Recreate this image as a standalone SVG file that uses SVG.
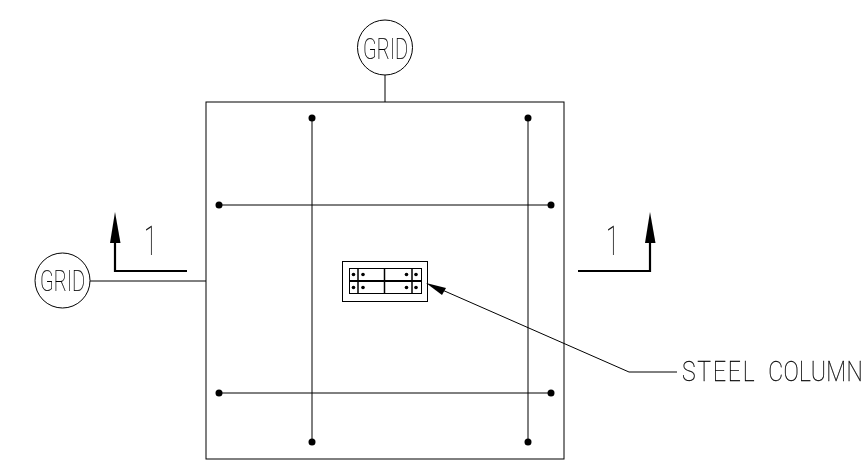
<svg xmlns="http://www.w3.org/2000/svg" width="864" height="461" viewBox="0 0 864 461">
<defs><style>
.l{fill:none;stroke:#000;stroke-width:1}
.m{fill:none;stroke:#000;stroke-width:1.5}
.h{fill:none;stroke:#000;stroke-width:2.2}
.d{fill:#000}
.t{font-family:"Roboto","Liberation Sans",Arial,sans-serif;font-weight:100;fill:#000;stroke:#000;stroke-width:.2;filter:url(#gray)}
</style>
<filter id="gray" x="-5%" y="-5%" width="110%" height="110%" color-interpolation-filters="sRGB"><feOffset dx="0" dy="0"/></filter>
</defs>
<rect width="864" height="461" fill="#fff"/>
<g id="connectors">
<line class="l" x1="385" y1="75" x2="385" y2="102"/>
<line class="l" x1="90" y1="281" x2="206" y2="281"/>
<polyline class="l" points="677,372 629,372 440,289"/>
<polygon class="d" points="426,283 446,288 442,295"/>
</g>
<g id="footing">
<rect class="l" x="206" y="102" width="358" height="357"/>
<g id="rebar">
<line class="l" x1="312" y1="118" x2="312" y2="442"/>
<line class="l" x1="528" y1="118" x2="528" y2="442"/>
<line class="l" x1="219" y1="205" x2="551" y2="205"/>
<line class="l" x1="219" y1="393" x2="551" y2="393"/>
<circle class="d" cx="312" cy="118" r="3.5"/><circle class="d" cx="312" cy="442" r="3.5"/>
<circle class="d" cx="528" cy="118" r="3.5"/><circle class="d" cx="528" cy="442" r="3.5"/>
<circle class="d" cx="219" cy="205" r="3.5"/><circle class="d" cx="551" cy="205" r="3.5"/>
<circle class="d" cx="219" cy="393" r="3.5"/><circle class="d" cx="551" cy="393" r="3.5"/>
</g>
</g>
<g id="column">
<rect class="l" x="342.500" y="261.500" width="85" height="40"/>
<rect class="l" x="349.500" y="268.500" width="72" height="25"/>
<line class="h" x1="349" y1="281" x2="422" y2="281"/>
<line class="m" x1="384.500" y1="268" x2="384.500" y2="294"/>
<line class="m" x1="358" y1="268" x2="358" y2="294"/>
<line class="m" x1="412" y1="268" x2="412" y2="294"/>
<g class="d">
<circle cx="353.500" cy="274.500" r="1.800"/><circle cx="363" cy="274.500" r="1.800"/>
<circle cx="353.500" cy="287.500" r="1.800"/><circle cx="363" cy="287.500" r="1.800"/>
<circle cx="406.500" cy="274.500" r="1.800"/><circle cx="416" cy="274.500" r="1.800"/>
<circle cx="406.500" cy="287.500" r="1.800"/><circle cx="416" cy="287.500" r="1.800"/>
</g>
</g>
<g id="grid-top">
<circle class="l" cx="385" cy="47.500" r="27.500"/>
<text class="t" x="363" y="59" font-size="30" textLength="45" lengthAdjust="spacingAndGlyphs">GRID</text>
</g>
<g id="grid-left">
<circle class="l" cx="62.500" cy="280.500" r="27.500"/>
<text class="t" x="40" y="291" font-size="30" textLength="45" lengthAdjust="spacingAndGlyphs">GRID</text>
</g>
<g id="section-left">
<polyline class="h" points="187,271 115,271 115,240"/>
<polygon class="d" points="115,212 110,243 120.500,243"/>
<text class="t" x="144" y="255" font-size="40" textLength="13" lengthAdjust="spacingAndGlyphs">1</text>
</g>
<g id="section-right">
<polyline class="h" points="578,271 650,271 650,240"/>
<polygon class="d" points="650,212 645,243 655.500,243"/>
<text class="t" x="606" y="255" font-size="40" textLength="13" lengthAdjust="spacingAndGlyphs">1</text>
</g>
<g id="label">
<text class="t" transform="translate(0,381) scale(1.150,1.350)" y="0" font-size="20"><tspan x="593" letter-spacing="1.600">STEEL</tspan> <tspan x="668" letter-spacing="0.300">COLUMN</tspan></text>
</g>
</svg>
